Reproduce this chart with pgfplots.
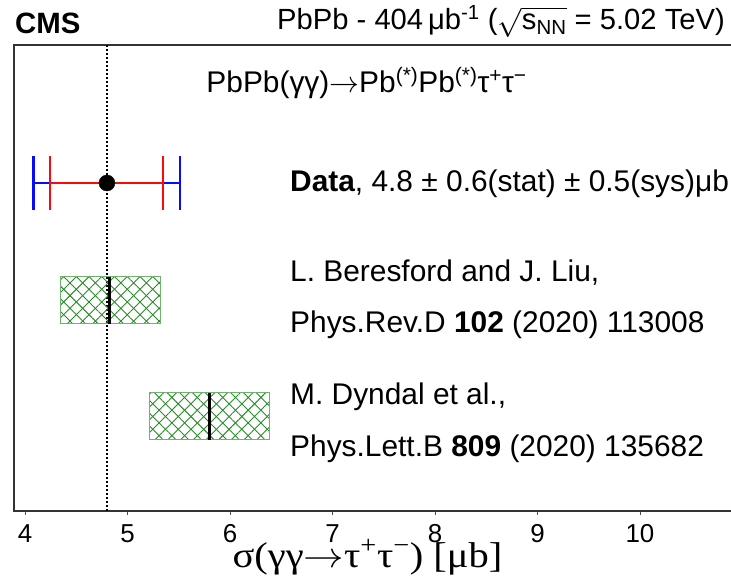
\documentclass[border=0pt]{standalone}
\usepackage{fix-cm}
\usepackage{pgfplots}
\pgfplotsset{compat=1.18}
\usepackage{fontspec}
\setmainfont{Liberation Sans}
\newfontfamily\seriffont{Liberation Serif}
\usetikzlibrary{patterns.meta}
\definecolor{hatch}{RGB}{40,140,40}
\definecolor{boxedge}{RGB}{110,180,110}
\definecolor{myred}{RGB}{250,10,10}
\definecolor{myblue}{RGB}{10,10,250}
\begin{document}
\begin{tikzpicture}
\useasboundingbox (0,0) rectangle (731bp,582bp);
\begin{axis}[
  at={(14bp,71bp)}, anchor=south west,
  scale only axis, width=729bp, height=466bp,
  xmin=3.893, xmax=11.005, ymin=0, ymax=466,
  xtick={4,5,6,7,8,9,10}, ytick=\empty,
  xtick pos=lower, tick align=outside,
  major tick length=4bp,
  axis line style={draw=black!80, line width=1.1pt},
  x tick style={draw=black!70, line width=0.8pt},
  xticklabel style={font=\fontsize{26}{26}\selectfont, anchor=base, yshift=-27bp, inner sep=0pt},
  /pgf/number format/assume math mode=true,
  clip=false,
]
% reference line at the measured value
\addplot[black, line width=2.6bp, dash pattern=on 2bp off 2bp] coordinates {(4.8,0) (4.8,466)};
% total uncertainty (blue)
\addplot[myblue, line width=2.4bp] coordinates {(4.085,328) (5.512,328)};
\addplot[myblue, line width=2.4bp] coordinates {(4.085,301) (4.085,355)};
\addplot[myblue, line width=2.4bp] coordinates {(5.512,301) (5.512,355)};
% statistical uncertainty (red)
\addplot[myred, line width=2.4bp] coordinates {(4.247,328) (5.349,328)};
\addplot[myred, line width=2.4bp] coordinates {(4.247,301) (4.247,355)};
\addplot[myred, line width=2.4bp] coordinates {(5.349,301) (5.349,355)};
\addplot[only marks, mark=*, mark size=8bp, black] coordinates {(4.8,328)};
% Beresford & Liu
\addplot[draw=none, pattern={Lines[angle=45,distance=9bp,line width=0.9bp]}, pattern color=hatch] coordinates {(4.344,187) (5.32,187) (5.32,234) (4.344,234) (4.344,187)};
\addplot[draw=boxedge, line width=1bp, pattern={Lines[angle=-45,distance=9bp,line width=0.9bp]}, pattern color=hatch] coordinates {(4.344,187) (5.32,187) (5.32,234) (4.344,234) (4.344,187)};
\addplot[black, line width=3bp] coordinates {(4.829,187) (4.829,234)};
% Dyndal et al.
\addplot[draw=none, pattern={Lines[angle=45,distance=9bp,line width=0.9bp]}, pattern color=hatch] coordinates {(5.217,71) (6.383,71) (6.383,118) (5.217,118) (5.217,71)};
\addplot[draw=boxedge, line width=1bp, pattern={Lines[angle=-45,distance=9bp,line width=0.9bp]}, pattern color=hatch] coordinates {(5.217,71) (6.383,71) (6.383,118) (5.217,118) (5.217,71)};
\addplot[black, line width=3bp] coordinates {(5.798,71) (5.798,118)};
\end{axis}
\node[anchor=base west, inner sep=0pt, font=\fontsize{29.5}{30}\selectfont\bfseries] at (15bp,548.7bp) {CMS};
\node[anchor=base east, inner sep=0pt, font=\fontsize{29.3}{30}\selectfont] at (725bp,552bp) {PbPb - 404\,μb\textsuperscript{-1} ($\sqrt{\vphantom{x}\smash{\mbox{s\textsubscript{NN}}}}$ = 5.02 TeV)};
\node[anchor=base, inner sep=0pt, font=\fontsize{30}{30}\selectfont] at (366.5bp,489bp) {PbPb(γγ)$\rightarrow$Pb\textsuperscript{(*)}Pb\textsuperscript{(*)}τ\textsuperscript{+}τ\textsuperscript{−}};
\node[anchor=base west, inner sep=0pt, font=\fontsize{30}{30}\selectfont] at (290bp,390bp) {\textbf{Data}, 4.8 ± 0.6(stat) ± 0.5(sys)μb};
\node[anchor=base west, inner sep=0pt, font=\fontsize{30}{30}\selectfont] at (290bp,300bp) {L. Beresford and J. Liu,};
\node[anchor=base west, inner sep=0pt, font=\fontsize{30}{30}\selectfont] at (290bp,249bp) {Phys.Rev.D \textbf{102} (2020) 113008};
\node[anchor=base west, inner sep=0pt, font=\fontsize{30}{30}\selectfont] at (290bp,177bp) {M. Dyndal et al.,};
\node[anchor=base west, inner sep=0pt, font=\fontsize{30}{30}\selectfont] at (290bp,125bp) {Phys.Lett.B \textbf{809} (2020) 135682};
\node[anchor=base, inner sep=0pt, font=\fontsize{36}{36}\selectfont\seriffont] at (367.5bp,15bp) {\scalebox{1.13}[1]{σ(γγ$\rightarrow$τ\textsuperscript{+}τ\textsuperscript{−}) [μb]}};
\end{tikzpicture}
\end{document}
